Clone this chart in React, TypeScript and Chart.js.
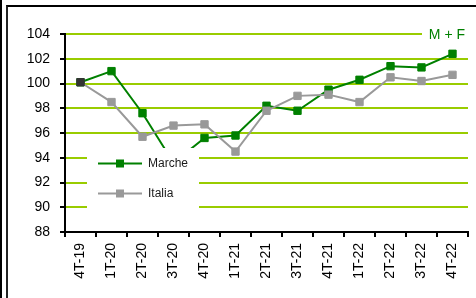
import React, { useEffect, useRef } from 'react';
import { Chart, registerables } from 'chart.js';

Chart.register(...registerables);

const categories = ['4T-19', '1T-20', '2T-20', '3T-20', '4T-20', '1T-21', '2T-21', '3T-21', '4T-21', '1T-22', '2T-22', '3T-22', '4T-22'];
const marcheValues = [100.1, 101.0, 97.6, 93.6, 95.6, 95.8, 98.2, 97.8, 99.5, 100.3, 101.4, 101.3, 102.4];
const italiaValues = [100.1, 98.5, 95.7, 96.6, 96.7, 94.5, 97.8, 99.0, 99.1, 98.5, 100.5, 100.2, 100.7];
const seriesNames = ['Marche', 'Italia'];
const yMin = 88;
const yMax = 104;
const yStep = 2;
const cornerLabel = 'M + F';

const GREEN = '#008000';
const GRAY = '#999999';
const GRID = '#99CC00';
const FONT = '"Liberation Sans", Arial, sans-serif';

const overlayPlugin = {
  id: 'overlay',
  afterDatasetsDraw(chart: any) {
    const { ctx, chartArea } = chart;
    ctx.save();
    // legend box
    const bx = chartArea.left + 22;
    const by = chartArea.top + 114;
    ctx.fillStyle = '#ffffff';
    ctx.fillRect(bx, by, 112, 67);
    const items = [
      { name: seriesNames[0], color: GREEN, y: chartArea.top + 129.5 },
      { name: seriesNames[1], color: GRAY, y: chartArea.top + 159.5 },
    ];
    ctx.font = `12px ${FONT}`;
    ctx.textBaseline = 'middle';
    ctx.textAlign = 'left';
    for (const it of items) {
      ctx.strokeStyle = it.color;
      ctx.lineWidth = 2;
      ctx.beginPath();
      ctx.moveTo(bx + 11, it.y);
      ctx.lineTo(bx + 55, it.y);
      ctx.stroke();
      ctx.fillStyle = it.color;
      ctx.fillRect(bx + 29, it.y - 4, 8, 8);
      ctx.fillStyle = '#1a1a1a';
      ctx.fillText(it.name, bx + 61, it.y + 0.5);
    }
    // corner label
    ctx.fillStyle = '#ffffff';
    ctx.fillRect(chartArea.right - 46, chartArea.top - 9, 50, 18);
    ctx.font = `14px ${FONT}`;
    ctx.fillStyle = GREEN;
    ctx.textAlign = 'right';
    ctx.fillText(cornerLabel, chartArea.right - 3, chartArea.top + 1.5);
    ctx.restore();
  },
};

export default function App() {
  const ref = useRef<HTMLCanvasElement | null>(null);

  useEffect(() => {
    if (!ref.current) return;
    const chart = new Chart(ref.current, {
      type: 'line',
      data: {
        labels: categories,
        datasets: [
          {
            label: seriesNames[0],
            data: marcheValues,
            borderColor: GREEN,
            backgroundColor: GREEN,
            borderWidth: 2,
            pointStyle: 'rect',
            pointRadius: 5.2,
            pointBorderWidth: 1,
            pointBackgroundColor: GREEN,
            pointBorderColor: GREEN,
            tension: 0,
            order: 1,
          },
          {
            label: seriesNames[1],
            data: italiaValues,
            borderColor: GRAY,
            backgroundColor: GRAY,
            borderWidth: 2,
            pointStyle: 'rect',
            pointRadius: 5.2,
            pointBorderWidth: 1,
            pointBackgroundColor: (c: any) => (c.dataIndex === 0 ? '#333333' : GRAY),
            pointBorderColor: (c: any) => (c.dataIndex === 0 ? '#333333' : GRAY),
            tension: 0,
            order: 0,
          },
        ],
      },
      options: {
        responsive: false,
        animation: false,
        layout: { padding: { left: 0, right: 8, top: 34, bottom: 0 } },
        plugins: {
          legend: { display: false },
          tooltip: { enabled: false },
          title: { display: false },
        },
        scales: {
          x: {
            type: 'category',
            offset: true,
            grid: {
              offset: true,
              drawOnChartArea: false,
              drawTicks: true,
              tickLength: 5,
              tickColor: '#000000',
              lineWidth: 2,
            },
            border: { color: '#000000', width: 2 },
            ticks: {
              minRotation: 90,
              maxRotation: 90,
              autoSkip: false,
              padding: 6,
              color: '#000000',
              font: { family: FONT, size: 14 },
            },
            afterFit: (s: any) => {
              s.height = 66;
            },
          },
          y: {
            min: yMin,
            max: yMax,
            ticks: {
              stepSize: yStep,
              padding: 10,
              color: '#000000',
              font: { family: FONT, size: 14 },
            },
            grid: {
              color: (c: any) => (c.tick && c.tick.value === yMin ? 'rgba(0,0,0,0)' : GRID),
              lineWidth: 2,
              tickLength: 5,
              tickColor: '#000000',
            },
            border: { color: '#000000', width: 2 },
            afterFit: (s: any) => {
              s.width = 65;
            },
          },
        },
      },
      plugins: [overlayPlugin],
    } as any);
    return () => chart.destroy();
  }, []);

  return (
    <div style={{ position: 'fixed', left: 0, top: 0, width: 476, height: 298, background: '#ffffff', overflow: 'hidden' }}>
      <div style={{ position: 'absolute', left: 0, top: 0, width: 2, height: 298, background: '#000000' }} />
      <div
        style={{
          position: 'absolute',
          left: 6,
          top: 5,
          width: 480,
          height: 300,
          borderTop: '2px solid #000000',
          borderLeft: '2px solid #222222',
        }}
      />
      <canvas ref={ref} width={476} height={298} style={{ position: 'absolute', left: 0, top: 0 }} />
    </div>
  );
}
